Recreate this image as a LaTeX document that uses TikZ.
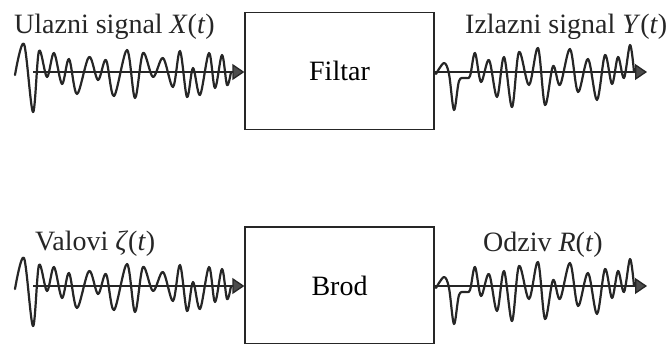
\documentclass[tikz,border=0pt]{standalone}
\usepackage{fontspec}
\setmainfont{Liberation Serif}
\usetikzlibrary{arrows.meta}
\begin{document}
\begin{tikzpicture}[x=1pt,y=-1pt,
  box/.style={draw=black!85,line width=1.3pt,minimum width=189pt,minimum height=117pt,inner sep=0pt,font=\fontsize{28}{32}\selectfont},
  lbl/.style={anchor=base west,inner sep=0pt,font=\fontsize{28}{32}\selectfont,text=black!85},
  wave/.style={draw=black!85,line width=2.2pt,line join=round,line cap=round},
  axis/.style={draw=black!85,line width=1.3pt,-{Triangle[length=12pt,width=16pt,fill=black!70]}}]
\useasboundingbox (0,0) rectangle (668,343);
\fill[white] (0,0) rectangle (668,343);
% boxes
\node[box] (filtar) at (339.5,71) {Filtar};
\node[box] (brod) at (339.5,285.5) {Brod};
% labels
\node[lbl] (lx) at (14,33) {Ulazni signal \textit{X}(\textit{t})};
\node[lbl] (ly) at (465,33) {Izlazni signal \textit{Y}(\textit{t})};
\node[lbl] (lz) at (35,250) {Valovi \textit{ζ}(\textit{t})};
\node[lbl] (lr) at (483,251) {Odziv \textit{R}(\textit{t})};
% waves
\foreach \dy in {0,214} {
\begin{scope}[shift={(0,\dy)}]
\draw[wave] plot[smooth,tension=0.55] coordinates {(15,75) (24,44) (33,112) (39,51) (47,77) (54,53) (62,84) (69,59) (77,94) (89,57) (98,80) (106,60) (114,96) (127,50) (135,98) (143,53) (153,77) (163,58) (173,87) (180,51) (187,97) (193,68) (200,95) (209,53) (215,88) (222,55) (227,85) (231,72)};
\draw[wave] plot[smooth,tension=0.55] coordinates {(436,74) (444,63) (449,74) (454,110) (459,81) (465,78) (470,76) (475,53) (481,82) (489,60) (497,97) (504,57) (512,107) (519,52) (529,85) (538,48) (545,105) (553,66) (560,85) (570,49) (578,92) (588,59) (597,100) (605,55) (612,84) (618,57) (624,78) (630,45) (634,72)};
\end{scope}
}
% axes
\coordinate (a1) at (33,72);
\coordinate (b1) at (647,72);
\coordinate (a2) at (33,286);
\coordinate (b2) at (647,286);
\draw[axis] (a1) -- (a1 -| filtar.west);
\draw[axis] (filtar.east |- b1) -- (b1);
\draw[axis] (a2) -- (a2 -| brod.west);
\draw[axis] (brod.east |- b2) -- (b2);
\end{tikzpicture}
\end{document}
